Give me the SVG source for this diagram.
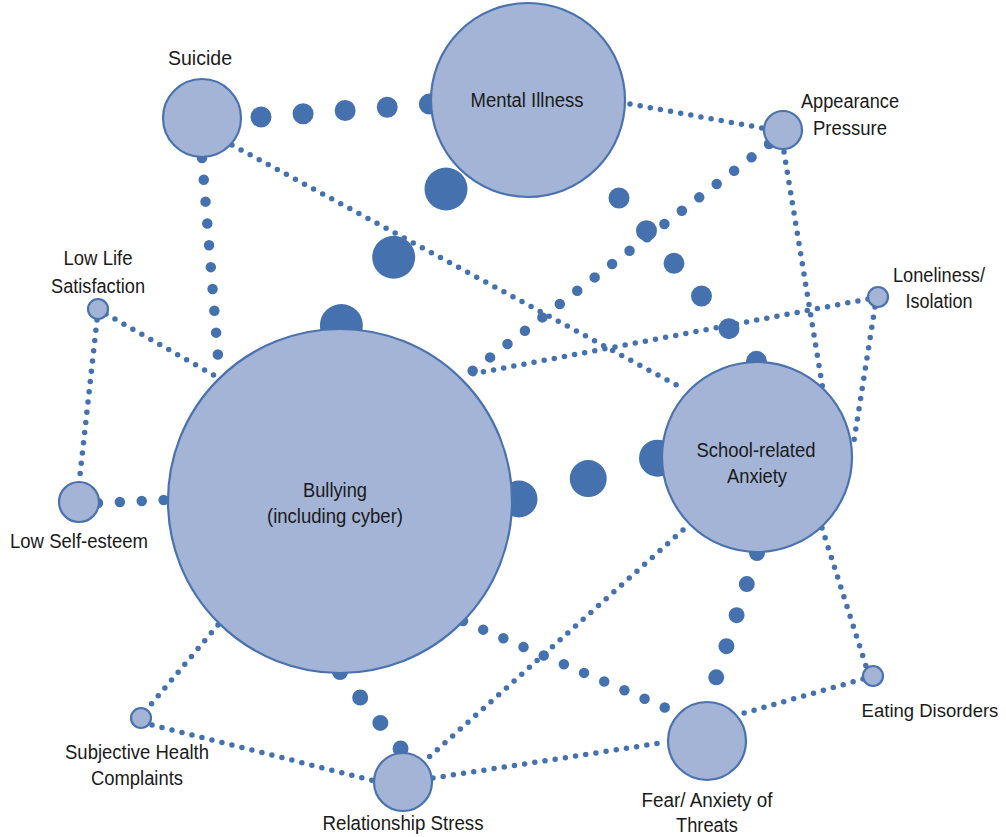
<svg xmlns="http://www.w3.org/2000/svg" width="1006" height="837" viewBox="0 0 1006 837">
<style>
.c{fill:none;stroke:#4571AE;stroke-linecap:round}
.s{stroke-width:5.5;stroke-dasharray:0 10.3}
.m{stroke-width:10.5;stroke-dasharray:0 21.9}
.n{fill:#A3B4D6;stroke:#4A72AF;stroke-width:2.2}
text{font-family:"Liberation Sans",Arial,sans-serif;font-size:20px;fill:#1a1a1a;text-anchor:middle}
</style>
<rect width="1006" height="837" fill="#ffffff"/>
<g id="connectors">
<line class="c s" x1="232" y1="145" x2="682" y2="388"/>
<line class="c s" x1="630" y1="104" x2="762" y2="128"/>
<line class="c s" x1="784" y1="152" x2="823" y2="390"/>
<line class="c s" x1="868" y1="299" x2="472" y2="374"/>
<line class="c s" x1="875" y1="307" x2="853" y2="447"/>
<line class="c s" x1="822" y1="528" x2="866" y2="666"/>
<line class="c s" x1="863" y1="679" x2="744" y2="713"/>
<line class="c s" x1="683" y1="530" x2="428" y2="758"/>
<line class="c s" x1="218" y1="625" x2="148" y2="708"/>
<line class="c s" x1="152" y1="725" x2="375" y2="781"/>
<line class="c s" x1="433" y1="778" x2="667" y2="742"/>
<line class="c s" x1="106" y1="314" x2="217" y2="377"/>
<line class="c s" x1="97" y1="320" x2="79" y2="484"/>
<line class="c m" x1="202" y1="158" x2="218" y2="356"/>
<line class="c" style="stroke-width:10.5;stroke-dasharray:0 21.95" x1="769" y1="144" x2="471" y2="372"/>
<line class="c" style="stroke-width:10.5;stroke-dasharray:0 21.95" x1="463" y1="621" x2="666" y2="708"/>
<line class="c" style="stroke-width:10.5;stroke-dasharray:0 21.9" x1="98" y1="503" x2="164" y2="500"/>
<line class="c" style="stroke-width:16;stroke-dasharray:0 32.5" x1="340" y1="672" x2="401" y2="749"/>
<line class="c" style="stroke-width:16;stroke-dasharray:0 32.7" x1="757" y1="553" x2="716" y2="678"/>
<line class="c" style="stroke-width:21;stroke-dasharray:0 42.7" x1="619" y1="198" x2="757" y2="362"/>
<line class="c" style="stroke-width:21;stroke-dasharray:0 42.2" x1="261" y1="117" x2="430" y2="104"/>
<line class="c" style="stroke-width:43;stroke-dasharray:0 86" x1="446" y1="189" x2="341" y2="326"/>
<line class="c" style="stroke-width:37;stroke-dasharray:0 72.2" x1="519" y1="499" x2="658" y2="458"/>
</g>
<g id="suicide"><circle class="n" cx="202" cy="118" r="39"/><text x="200" y="65" textLength="64" lengthAdjust="spacingAndGlyphs">Suicide</text></g>
<g id="mental-illness"><circle class="n" cx="528" cy="100" r="97"/><text x="527" y="107" textLength="113" lengthAdjust="spacingAndGlyphs">Mental Illness</text></g>
<g id="appearance-pressure"><circle class="n" cx="783" cy="130" r="19"/><text x="850" y="108" textLength="98" lengthAdjust="spacingAndGlyphs">Appearance</text><text x="850" y="135" textLength="74" lengthAdjust="spacingAndGlyphs">Pressure</text></g>
<g id="loneliness"><circle class="n" cx="878" cy="297" r="10"/><text x="939" y="282" textLength="92" lengthAdjust="spacingAndGlyphs">Loneliness/</text><text x="939" y="308" textLength="67" lengthAdjust="spacingAndGlyphs">Isolation</text></g>
<g id="low-life-satisfaction"><circle class="n" cx="98" cy="309" r="10"/><text x="98" y="265" textLength="69" lengthAdjust="spacingAndGlyphs">Low Life</text><text x="98" y="293" textLength="94" lengthAdjust="spacingAndGlyphs">Satisfaction</text></g>
<g id="low-self-esteem"><circle class="n" cx="79" cy="502" r="20"/><text x="79" y="548" textLength="138" lengthAdjust="spacingAndGlyphs">Low Self-esteem</text></g>
<g id="bullying"><circle class="n" cx="340" cy="501" r="172"/><text x="335" y="497" textLength="64" lengthAdjust="spacingAndGlyphs">Bullying</text><text x="335" y="523" textLength="136" lengthAdjust="spacingAndGlyphs">(including cyber)</text></g>
<g id="school-anxiety"><circle class="n" cx="757" cy="457" r="95"/><text x="756" y="457" textLength="119" lengthAdjust="spacingAndGlyphs">School-related</text><text x="757" y="483" textLength="60" lengthAdjust="spacingAndGlyphs">Anxiety</text></g>
<g id="eating-disorders"><circle class="n" cx="873" cy="676" r="10"/><text x="930" y="717" style="font-size:18.5px">Eating Disorders</text></g>
<g id="fear-anxiety"><circle class="n" cx="707" cy="741" r="39"/><text x="707" y="807" textLength="131" lengthAdjust="spacingAndGlyphs">Fear/ Anxiety of</text><text x="707" y="832" textLength="62" lengthAdjust="spacingAndGlyphs">Threats</text></g>
<g id="relationship-stress"><circle class="n" cx="403" cy="782" r="29"/><text x="403" y="830" textLength="161" lengthAdjust="spacingAndGlyphs">Relationship Stress</text></g>
<g id="subjective-health"><circle class="n" cx="141" cy="718" r="10"/><text x="137" y="759" textLength="144" lengthAdjust="spacingAndGlyphs">Subjective Health</text><text x="137" y="785" textLength="92" lengthAdjust="spacingAndGlyphs">Complaints</text></g>
</svg>
